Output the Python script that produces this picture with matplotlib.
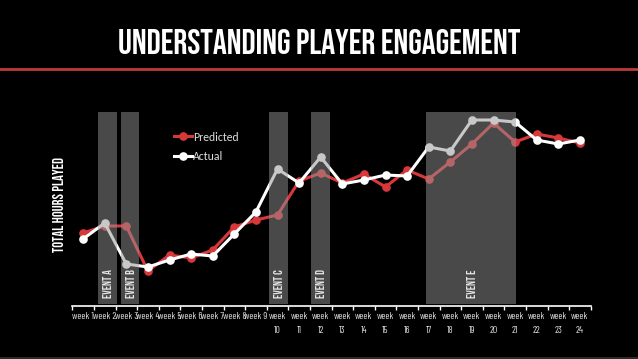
import matplotlib
matplotlib.use('Agg')
import matplotlib.pyplot as plt
from matplotlib.lines import Line2D

weeks = list(range(1, 25))
week_labels = ['week %d' % w if w < 10 else 'week\n%d' % w for w in weeks]

# relative hours played
predicted = [73, 80, 80, 35, 51, 48, 56, 79, 86, 91, 125, 133,
             123, 132, 119, 136, 127, 144, 162, 183, 164, 172, 168, 163]
actual = [67, 83, 42, 39, 46, 52, 50, 72, 94, 137, 123, 149,
          122, 126, 131, 130, 159, 155, 186, 186, 184, 166, 162, 166]

event_names = ['EVENT A', 'EVENT B', 'EVENT C', 'EVENT D', 'EVENT E']
event_start = [1.70, 2.75, 9.61, 11.57, 16.86]
event_end = [2.56, 3.61, 10.48, 12.44, 21.06]

bebas = ['Bebas Neue', 'DejaVu Sans']
cond = ['Barlow Condensed', 'Asap Condensed', 'DejaVu Sans']
red = '#d9383a'

fig = plt.figure(figsize=(6.38, 3.59), dpi=100, facecolor='black')

# title + red rule
fig.text(0.5, 1 - 41 / 359, 'UNDERSTANDING PLAYER ENGAGEMENT', color='white',
         ha='center', va='center', fontsize=25, family=bebas)
fig.add_artist(Line2D([0, 1], [1 - 69 / 359] * 2, color='#c0393b', lw=2))
fig.add_artist(Line2D([0, 1], [1 - 357.5 / 359] * 2, color='#2a2a2a', lw=1.5))

ax = fig.add_axes([72.3 / 638, 1 - 306 / 359, 518.4 / 638, 193.7 / 359])
ax.set_facecolor('black')

ax.plot(weeks, predicted, color=red, lw=2.2, marker='o', ms=5.2, label='Predicted', zorder=2)
ax.plot(weeks, actual, color='white', lw=2.2, marker='o', ms=5.2, label='Actual', zorder=3)

for name, s, e in zip(event_names, event_start, event_end):
    ax.axvspan(s, e, ymin=0.012, ymax=1, color='#929294', alpha=0.5, lw=0, zorder=4)
    ax.text((s + e) / 2, 8, name, rotation=90, ha='center', va='bottom',
            color='#e6e6e6', fontsize=8.5, family=bebas, zorder=5)

ax.set_xlim(0.5, 24.5)
ax.set_ylim(0, 193.7)
ax.set_yticks([])
for side in ['top', 'right', 'left']:
    ax.spines[side].set_visible(False)
ax.spines['bottom'].set_color('white')
ax.spines['bottom'].set_linewidth(1.2)

ax.set_xticks(weeks)
ax.set_xticklabels(week_labels, color='#e0e0e0', fontsize=7, family=cond, linespacing=1.8)
ax.tick_params(axis='x', which='major', length=0, pad=4)
ax.set_xticks([w + 0.5 for w in range(0, 25)], minor=True)
ax.tick_params(axis='x', which='minor', length=3, width=1, color='white', direction='out')

fig.text(58 / 638, 1 - 204 / 359, 'TOTAL HOURS PLAYED', rotation=90, color='white',
         ha='center', va='center', fontsize=10.5, family=bebas)

leg = ax.legend(loc='center left', bbox_to_anchor=(168 / 638, 1 - 147 / 359),
                bbox_transform=fig.transFigure, frameon=False,
                handlelength=1.5, handletextpad=0.1, labelspacing=0.75, borderpad=0,
                prop={'family': ['Carlito', 'Open Sans'], 'size': 8.5})
for t in leg.get_texts():
    t.set_color('#dcdcdc')

fig.savefig('out.png', dpi=100, facecolor='black')
